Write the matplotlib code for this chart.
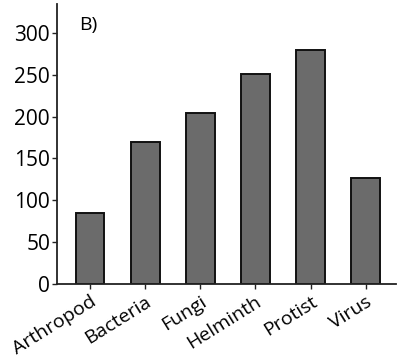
import matplotlib
matplotlib.use("Agg")
import matplotlib.pyplot as plt

categories = ["Arthropod", "Bacteria", "Fungi", "Helminth", "Protist", "Virus"]
counts = [85, 169, 204, 251, 280, 127]
yticks = [0, 50, 100, 150, 200, 250, 300]

plt.rcParams['font.family'] = ['Open Sans', 'DejaVu Sans']

fig = plt.figure(figsize=(3.98, 3.6), dpi=100)
ax = fig.add_axes([57 / 398, 1 - 283.5 / 360, (396 - 57) / 398, (283.5 - 4) / 360])

x = range(len(categories))
ax.bar(x, counts, width=0.52, color="#6b6b6b", edgecolor="#111111", linewidth=1.4, zorder=2)

ax.set_xlim(-0.6, 5.55)
ax.set_ylim(0, 335)
ax.set_yticks(yticks)
ax.set_yticklabels([str(v) for v in yticks], fontsize=15)
ax.set_xticks(list(x))
ax.set_xticklabels(categories, fontsize=14, rotation=32, ha="right", rotation_mode="anchor")

for side in ("top", "right"):
    ax.spines[side].set_visible(False)
for side in ("left", "bottom"):
    ax.spines[side].set_linewidth(1.3)
    ax.spines[side].set_color("#222222")
ax.tick_params(axis="both", direction="out", length=3.5, width=1, color="#222222", pad=1.5)
ax.tick_params(axis="x", pad=3)

ax.text(0.065, 0.925, "B)", transform=ax.transAxes, fontsize=14, va="center", ha="left")

fig.savefig("out.png", dpi=100)
